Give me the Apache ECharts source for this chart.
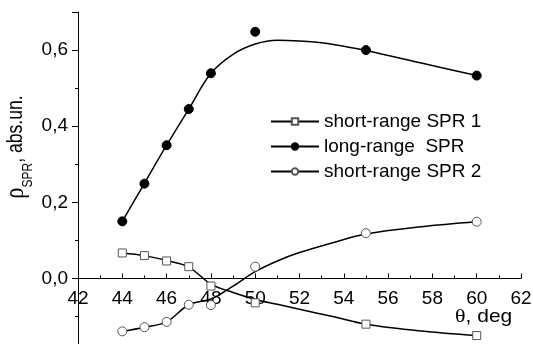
<!DOCTYPE html>
<html><head><meta charset="utf-8">
<script src="https://cdn.jsdelivr.net/npm/echarts@6/dist/echarts.min.js"></script>
<style>html,body{margin:0;padding:0;background:#fff}#c{width:533px;height:344px}</style>
</head><body><div id="c"></div>
<script>
// Measured points
const srp1 = [[44,0.067],[45,0.060],[46,0.046],[47,0.031],[48,-0.020],[50,-0.064],[55,-0.120],[60,-0.150]];
const lrp  = [[44,0.150],[45,0.249],[46,0.350],[47,0.445],[48,0.539],[50,0.648],[55,0.600],[60,0.533]];
const srp2 = [[44,-0.139],[45,-0.128],[46,-0.114],[47,-0.069],[48,-0.070],[50,0.031],[55,0.119],[60,0.149]];
// Fitted curves
const fit1 = [[44,0.067],[45,0.060],[46,0.047],[47,0.030],[48,-0.015],[49,-0.037],[50,-0.055],[51,-0.068],[52,-0.081],[53.5,-0.100],[55,-0.120],[57.5,-0.138],[60,-0.150]];
const fitL = [[44,0.150],[45,0.250],[46,0.350],[47,0.445],[48,0.539],[49,0.589],[50,0.616],[51,0.626],[52,0.624],[53,0.619],[54,0.610],[55,0.599],[57.5,0.566],[60,0.533]];
const fit2 = [[44,-0.139],[45,-0.128],[46,-0.114],[47,-0.069],[48,-0.054],[49,-0.020],[50,0.018],[51,0.046],[52,0.068],[53.5,0.094],[55,0.117],[57.5,0.136],[60,0.149]];
const names = ['short-range SPR 1','long-range  SPR','short-range SPR 2'];
const xTicks = {min:42, max:62, step:2};
const yTicks = {min:-0.2, max:0.7, step:0.2};

const chart = echarts.init(document.getElementById('c'));
const F = 'Liberation Sans, Arial, sans-serif';
function ptSeries(name, data, symbol, fill, border, size){
  return {name, type:'line', data, symbol, symbolSize:size, z:5,
    itemStyle:{color:fill, borderColor:border, borderWidth:1, opacity:1},
    lineStyle:{opacity:0}, emphasis:{disabled:true}, animation:false};
}
function fitSeries(name, data){
  return {name, type:'line', data, smooth:0.35, symbol:'none', z:3,
    lineStyle:{color:'#000', width:1.5}, emphasis:{disabled:true}, animation:false};
}
chart.setOption({
  animation:false,
  grid:[
    {left:78, right:12, top:12, height:342.6, outerBoundsMode:'none'},
    {left:78, right:12, top:12, height:265.7, outerBoundsMode:'none'}
  ],
  xAxis:[
    {type:'value', gridIndex:0, min:xTicks.min, max:xTicks.max, interval:xTicks.step,
      axisLine:{onZero:true, lineStyle:{color:'#000', width:1}},
      axisTick:{inside:true, length:5, lineStyle:{color:'#000'}},
      minorTick:{show:true, splitNumber:2, length:3, lineStyle:{color:'#000'}},
      splitLine:{show:false}, axisLabel:{show:false}},
    {type:'value', gridIndex:1, min:xTicks.min, max:xTicks.max, interval:xTicks.step,
      axisLine:{show:false}, axisTick:{show:false}, splitLine:{show:false},
      axisLabel:{color:'#000', fontFamily:F, fontSize:19, margin:12}}
  ],
  yAxis:[
    {type:'value', gridIndex:0, min:yTicks.min, max:yTicks.max, interval:yTicks.step,
      axisLine:{show:true, lineStyle:{color:'#000', width:1}},
      axisTick:{inside:false, length:6, lineStyle:{color:'#000'}},
      minorTick:{show:true, splitNumber:2, length:3, lineStyle:{color:'#000'}},
      splitLine:{show:false},
      axisLabel:{color:'#000', fontFamily:F, fontSize:19, margin:10, showMaxLabel:false,
        formatter:v=>v.toFixed(1).replace('.',',')}},
    {type:'value', gridIndex:1, min:0, max:1, show:false}
  ],
  legend:{orient:'vertical', left:265, top:107, itemWidth:48, itemHeight:8, itemGap:6,
    data:names, textStyle:{color:'#000', fontFamily:F, fontSize:19},
    lineStyle:{color:'#000', width:2, opacity:1}, selectedMode:false},
  graphic:[
    {type:'text', x:16, y:147, rotation:Math.PI/2, scaleX:0.8,
      style:{text:'{r|ρ}{s|SPR}, abs.un.', font:'22px '+F, fill:'#000', align:'center', verticalAlign:'middle',
        rich:{r:{fontFamily:'Liberation Serif, serif', fontSize:28, fill:'#000', lineHeight:38},
              s:{fontFamily:F, fontSize:15, fill:'#000', verticalAlign:'bottom', lineHeight:15}}}},
    {type:'text', x:455, y:317, scaleY:0.85,
      style:{text:'{t|θ}, deg', font:'21px '+F, fill:'#000', align:'left', verticalAlign:'middle',
        rich:{t:{fontFamily:'Liberation Serif, serif', fontSize:22, fill:'#000'}}}}
  ],
  series:[
    ptSeries(names[0], srp1, 'rect', '#fff', '#555', 8),
    ptSeries(names[1], lrp, 'circle', '#000', '#000', 9),
    ptSeries(names[2], srp2, 'circle', '#fff', '#555', 9),
    fitSeries('fit1', fit1), fitSeries('fitL', fitL), fitSeries('fit2', fit2)
  ]
});
</script></body></html>
